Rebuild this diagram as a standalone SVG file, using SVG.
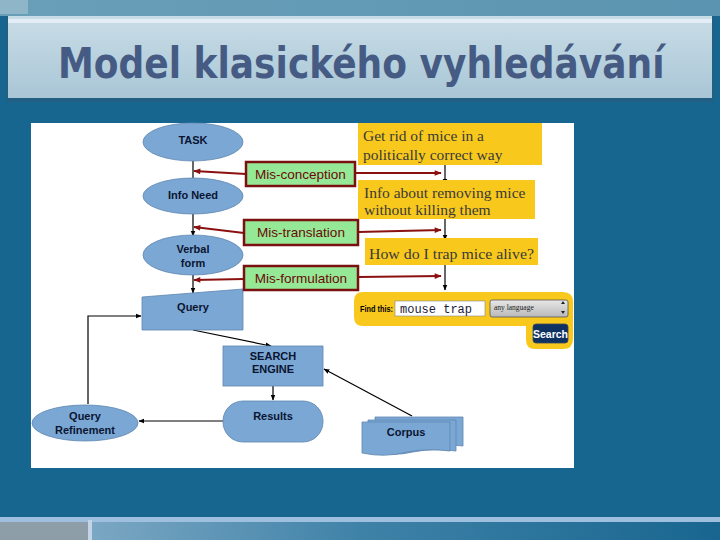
<svg xmlns="http://www.w3.org/2000/svg" width="720" height="540" viewBox="0 0 720 540">
<defs>
<linearGradient id="titleG" x1="0" y1="0" x2="0" y2="1">
<stop offset="0" stop-color="#c9dde7"/>
<stop offset="1" stop-color="#a9c6d6"/>
</linearGradient>
<linearGradient id="topG" x1="0" y1="0" x2="1" y2="0">
<stop offset="0" stop-color="#6a9fb8"/>
<stop offset="1" stop-color="#5b94b0"/>
</linearGradient>
<linearGradient id="botG" x1="0" y1="0" x2="1" y2="0">
<stop offset="0" stop-color="#8fb4cc"/>
<stop offset="0.5" stop-color="#3f82a8"/>
<stop offset="1" stop-color="#186690"/>
</linearGradient>
<linearGradient id="selG" x1="0" y1="0" x2="0" y2="1">
<stop offset="0" stop-color="#e8e8e8"/>
<stop offset="1" stop-color="#b8b8b8"/>
</linearGradient>
<marker id="ab" viewBox="0 0 10 10" refX="9" refY="5" markerWidth="6" markerHeight="6" orient="auto" markerUnits="userSpaceOnUse">
<path d="M0,1 L10,5 L0,9 z" fill="#000"/>
</marker>
<marker id="ar" viewBox="0 0 10 10" refX="9" refY="5" markerWidth="8" markerHeight="7" orient="auto" markerUnits="userSpaceOnUse">
<path d="M0,1 L10,5 L0,9 z" fill="#8b1010"/>
</marker>
</defs>
<style>
.shape{fill:#7ba7d5;stroke:#5f86b0;stroke-width:0.8}
.lbl{font-family:"Liberation Sans",Arial,sans-serif;font-size:11px;font-weight:bold;fill:#0a1530;text-anchor:middle}
.mis{fill:#95e895;stroke:#7a1010;stroke-width:2.5}
.mist{font-family:"Liberation Sans",Arial,sans-serif;font-size:13.5px;fill:#6a0808;text-anchor:middle}
.yel{fill:#f8c91c}
.yt{font-family:"Liberation Serif","Times New Roman",serif;font-size:15.5px;fill:#3a3a3a}
.blk{stroke:#000;stroke-width:1.2;fill:none}
.red{stroke:#8b1010;stroke-width:2.2;fill:none}
</style>
<!-- slide background -->
<rect x="0" y="0" width="720" height="540" fill="#176690"/>
<rect x="0" y="0" width="720" height="16" fill="url(#topG)"/>
<rect x="0" y="0" width="28" height="14" fill="#8fb6c8"/>
<rect x="6" y="16" width="708" height="86" fill="#2c5a78" opacity="0.5"/>
<rect x="8" y="16" width="704" height="82" fill="url(#titleG)"/>
<rect x="8" y="19" width="704" height="4" fill="#e2edf5"/>
<text transform="translate(58,78) scale(1,1.2)" x="0" y="0" font-family="'DejaVu Sans',Verdana,sans-serif" font-size="36" font-weight="bold" fill="#455b83">Model klasického vyhledávání</text>
<rect x="0" y="517" width="720" height="23" fill="url(#botG)"/>
<rect x="0" y="517" width="720" height="5" fill="#9fbfdf"/>
<rect x="0" y="522" width="88" height="18" fill="#8e9ea8"/>
<rect x="88" y="520" width="4" height="20" fill="#c4d4e6"/>
<!-- picture area -->
<rect x="31" y="123" width="543" height="345" fill="#ffffff"/>

<g id="connectors">
<line class="blk" x1="193" y1="160" x2="193" y2="183" marker-end="url(#ab)"/>
<line class="blk" x1="193" y1="213" x2="193" y2="236" marker-end="url(#ab)"/>
<line class="blk" x1="193" y1="275" x2="193" y2="293" marker-end="url(#ab)"/>
<line class="red" x1="246" y1="174" x2="194" y2="171" marker-end="url(#ar)"/>
<line class="red" x1="244" y1="233" x2="194" y2="227" marker-end="url(#ar)"/>
<line class="red" x1="244" y1="279" x2="194" y2="280" marker-end="url(#ar)"/>
<line class="red" x1="355" y1="173" x2="441" y2="173" marker-end="url(#ar)"/>
<line class="red" x1="358" y1="232" x2="441" y2="230" marker-end="url(#ar)"/>
<line class="red" x1="358" y1="277" x2="441" y2="276" marker-end="url(#ar)"/>
<line class="blk" stroke-width="1.6" x1="445" y1="165" x2="445" y2="184" marker-end="url(#ab)"/>
<line class="blk" stroke-width="1.6" x1="445" y1="219" x2="445" y2="240" marker-end="url(#ab)"/>
<line class="blk" stroke-width="1.6" x1="445" y1="265" x2="445" y2="290" marker-end="url(#ab)"/>
<line class="blk" x1="193" y1="330" x2="271" y2="346" marker-end="url(#ab)"/>
<line class="blk" x1="273" y1="386" x2="273" y2="400" marker-end="url(#ab)"/>
<line class="blk" stroke-width="2.2" x1="223" y1="421" x2="139" y2="421" marker-end="url(#ab)"/>
<polyline class="blk" points="88,404 88,316 141,316" marker-end="url(#ab)"/>
<line class="blk" x1="412" y1="416" x2="324" y2="369" marker-end="url(#ab)"/>
</g>

<g id="task">
<ellipse class="shape" cx="193" cy="142" rx="50" ry="19"/>
<text class="lbl" x="193" y="144">TASK</text>
</g>
<g id="info-need">
<ellipse class="shape" cx="193" cy="196" rx="50" ry="18"/>
<text class="lbl" x="193" y="199">Info Need</text>
</g>
<g id="verbal-form">
<ellipse class="shape" cx="193" cy="255" rx="50" ry="20"/>
<text class="lbl" x="193" y="253">Verbal</text>
<text class="lbl" x="193" y="267">form</text>
</g>
<g id="query">
<path class="shape" d="M142,297 L243,289 L243,330 L142,330 Z"/>
<text class="lbl" x="193" y="311">Query</text>
</g>
<g id="search-engine">
<rect class="shape" x="223" y="346" width="100" height="40"/>
<text class="lbl" x="273" y="360">SEARCH</text>
<text class="lbl" x="273" y="373">ENGINE</text>
</g>
<g id="results">
<rect class="shape" x="223" y="401" width="100" height="41" rx="20" ry="20"/>
<text class="lbl" x="273" y="420">Results</text>
</g>
<g id="query-refinement">
<ellipse class="shape" cx="85" cy="423" rx="53" ry="18"/>
<text class="lbl" x="85" y="420">Query</text>
<text class="lbl" x="85" y="434">Refinement</text>
</g>
<g id="corpus">
<path class="shape" d="M375,417 L463,417 L463,446 Q440,443 420,449 Q400,454 375,448 Z"/>
<path class="shape" d="M368,420 L456,420 L456,451 Q433,448 413,452 Q393,457 368,451 Z"/>
<path class="shape" d="M362,422 L450,422 L450,451 Q427,448 407,452 Q385,458 362,453 Z"/>
<text class="lbl" x="406" y="436" font-weight="normal">Corpus</text>
</g>

<g id="mis-conception">
<rect class="mis" x="246" y="162" width="109" height="24"/>
<text class="mist" x="300.5" y="179">Mis-conception</text>
</g>
<g id="mis-translation">
<rect class="mis" x="244" y="220" width="114" height="25"/>
<text class="mist" x="301" y="237">Mis-translation</text>
</g>
<g id="mis-formulation">
<rect class="mis" x="244" y="266" width="114" height="24"/>
<text class="mist" x="301" y="283">Mis-formulation</text>
</g>

<g id="get-rid">
<rect class="yel" x="358" y="123" width="184" height="42"/>
<text class="yt" x="363" y="141">Get rid of mice in a</text>
<text class="yt" x="363" y="160">politically correct way</text>
</g>
<g id="info-about">
<rect class="yel" x="358" y="180" width="177" height="39"/>
<text class="yt" x="364" y="198">Info about removing mice</text>
<text class="yt" x="364" y="215">without killing them</text>
</g>
<g id="how-do">
<rect class="yel" x="365" y="238" width="173" height="27"/>
<text class="yt" x="369" y="259" textLength="165" lengthAdjust="spacingAndGlyphs">How do I trap mice alive?</text>
</g>
<g id="search-form">
<path class="yel" d="M363,292 L563,292 Q573,292 573,302 L573,339 Q573,349 563,349 L535,349 Q526,349 526,340 L526,326 L363,326 Q354,326 354,317 L354,301 Q354,292 363,292 Z"/>
<text x="360" y="312" font-family="'Liberation Sans',Arial,sans-serif" font-size="9" font-weight="bold" fill="#000" textLength="33" lengthAdjust="spacingAndGlyphs">Find this:</text>
<rect x="395" y="301" width="90" height="15" fill="#fff" stroke="#888" stroke-width="0.6"/>
<text x="400" y="313" font-family="'Liberation Mono','Courier New',monospace" font-size="12" fill="#1a1a3a">mouse trap</text>
<rect x="490" y="300" width="78" height="17" rx="2" fill="url(#selG)" stroke="#555" stroke-width="0.8"/>
<text x="494" y="310" font-family="'Liberation Serif',serif" font-size="7.5" fill="#222">any language</text>
<path d="M561,304 L563,301 L565,304 Z M561,311 L563,314 L565,311 Z" fill="#222"/>
<rect x="533" y="324" width="35" height="19" rx="3" fill="#0f3263" stroke="#3a4a60" stroke-width="0.8"/>
<text x="550.5" y="337.5" font-family="'Liberation Sans',Arial,sans-serif" font-size="10.5" font-weight="bold" fill="#fff" text-anchor="middle">Search</text>
</g>
</svg>
